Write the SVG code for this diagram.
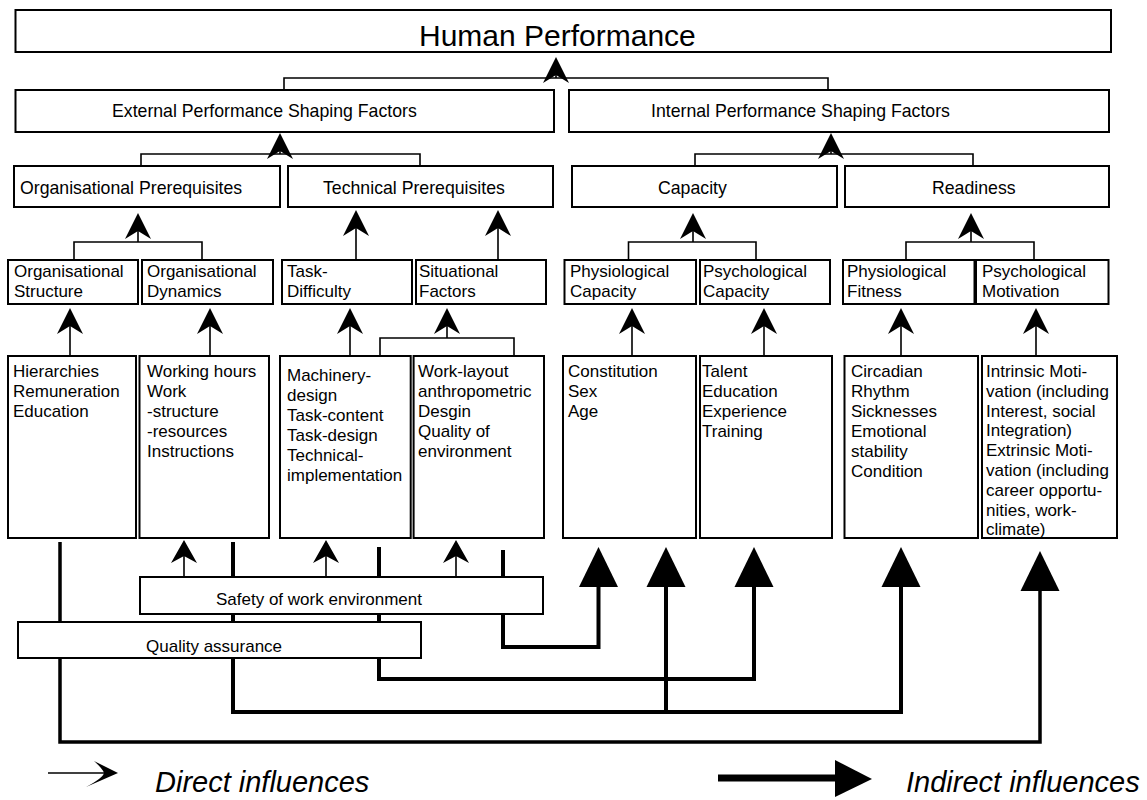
<svg xmlns="http://www.w3.org/2000/svg" xmlns:xlink="http://www.w3.org/1999/xlink" width="1147" height="800" viewBox="0 0 1147 800">
  <style>
    .box { fill: #ffffff; stroke: #000000; stroke-width: 2; }
    .t { font-family: "Liberation Sans", Arial, sans-serif; font-size: 17px; fill: #000000; }
    .mid { font-size: 17.7px; }
    .big { font-size: 30px; }
    .leg { font-size: 29px; font-style: italic; }
    .thin { fill: none; stroke: #000000; stroke-width: 1.6; }
    .thick { fill: none; stroke: #000000; stroke-width: 4; stroke-linejoin: miter; }
    .head { fill: #000000; }
  </style>
  <defs>
    <!-- notched arrowhead, tip at origin, pointing up -->
    <path id="ah" d="M0,0 L13,26 L0,18 L-13,26 Z"/>
    <path id="ahs" d="M0,0 L13,23 L0,16 L-13,23 Z"/>
    <!-- large solid arrowhead for indirect influences -->
    <path id="bh" d="M0,0 L19.5,40 L-19.5,40 Z"/>
  </defs>

  <rect width="1147" height="800" fill="#ffffff"/>

  <!-- connectors -->
  <g id="connectors">
    <!-- indirect influence lines (thick) -->
    <path class="thick" d="M60,542 V742 H1040 V585" style="stroke-width:3.5"/>
    <path class="thick" d="M233,542 V712 H901 V583"/>
    <path class="thick" d="M666,712 V583"/>
    <path class="thick" d="M379,547 V679 H754 V583"/>
    <path class="thick" d="M503,550 V647 H598.5 V583"/>
    <g class="head">
      <use xlink:href="#bh" x="1040" y="551"/>
      <use xlink:href="#bh" x="901" y="547"/>
      <use xlink:href="#bh" x="666" y="547"/>
      <use xlink:href="#bh" x="754" y="547"/>
      <use xlink:href="#bh" x="598.5" y="547"/>
    </g>

    <!-- brackets joining sibling nodes -->
    <path class="thin" d="M284,90 V78 H828 V90"/>
    <path class="thin" d="M141,166 V154 H420 V166"/>
    <path class="thin" d="M695,166 V154 H973 V166"/>
    <path class="thin" d="M74,260 V242 H202 V260"/>
    <path class="thin" d="M628.5,260 V242 H756 V260"/>
    <path class="thin" d="M906,260 V242 H1034 V260"/>
    <path class="thin" d="M380,356 V338 H514 V356"/>

    <!-- direct influence shafts -->
    <path class="thin" d="M556,78 V62 M280,154 V138 M831,154 V138
                          M138,242 V218 M693,242 V218 M971,242 V218
                          M356,260 V215 M498,260 V215
                          M70,356 V313 M210,356 V313 M350,356 V313 M447,338 V313
                          M632,356 V313 M764,356 V313 M901,356 V313 M1036,356 V313
                          M184,577 V545 M326,577 V545 M456,577 V545"/>
    <g class="head">
      <use xlink:href="#ah" x="556" y="57"/>
      <use xlink:href="#ah" x="280" y="133"/>
      <use xlink:href="#ah" x="831" y="133"/>
      <use xlink:href="#ah" x="138" y="213"/>
      <use xlink:href="#ah" x="693" y="213"/>
      <use xlink:href="#ah" x="971" y="213"/>
      <use xlink:href="#ah" x="356" y="210"/>
      <use xlink:href="#ah" x="498" y="210"/>
      <use xlink:href="#ah" x="70" y="308"/>
      <use xlink:href="#ah" x="210" y="308"/>
      <use xlink:href="#ah" x="350" y="308"/>
      <use xlink:href="#ah" x="447" y="308"/>
      <use xlink:href="#ah" x="632" y="308"/>
      <use xlink:href="#ah" x="764" y="308"/>
      <use xlink:href="#ah" x="901" y="308"/>
      <use xlink:href="#ah" x="1036" y="308"/>
      <use xlink:href="#ahs" x="184" y="540"/>
      <use xlink:href="#ahs" x="326" y="540"/>
      <use xlink:href="#ahs" x="456" y="540"/>
    </g>
  </g>

  <!-- level 1 -->
  <g id="human-performance">
    <rect class="box" x="15.5" y="10" width="1095.5" height="42"/>
    <text class="t big" x="419" y="46">Human Performance</text>
  </g>

  <!-- level 2 -->
  <g id="external-psf">
    <rect class="box" x="15.5" y="90" width="538.5" height="42"/>
    <text class="t mid" x="112" y="117">External Performance Shaping Factors</text>
  </g>
  <g id="internal-psf">
    <rect class="box" x="569" y="90" width="540" height="42"/>
    <text class="t mid" x="651" y="117">Internal Performance Shaping Factors</text>
  </g>

  <!-- level 3 -->
  <g id="organisational-prerequisites">
    <rect class="box" x="14" y="166" width="266" height="41"/>
    <text class="t mid" x="20" y="194">Organisational Prerequisites</text>
  </g>
  <g id="technical-prerequisites">
    <rect class="box" x="288" y="166" width="265" height="41"/>
    <text class="t mid" x="323" y="194">Technical Prerequisites</text>
  </g>
  <g id="capacity">
    <rect class="box" x="572" y="166" width="265" height="41"/>
    <text class="t mid" x="658" y="194">Capacity</text>
  </g>
  <g id="readiness">
    <rect class="box" x="845" y="166" width="264" height="41"/>
    <text class="t mid" x="932" y="194">Readiness</text>
  </g>

  <!-- level 4 -->
  <g id="organisational-structure">
    <rect class="box" x="8" y="260" width="130" height="44"/>
    <text class="t" x="14" y="277">Organisational</text>
    <text class="t" x="14" y="297">Structure</text>
  </g>
  <g id="organisational-dynamics">
    <rect class="box" x="142" y="260" width="131" height="44"/>
    <text class="t" x="147" y="277">Organisational</text>
    <text class="t" x="147" y="297">Dynamics</text>
  </g>
  <g id="task-difficulty">
    <rect class="box" x="282" y="260" width="130" height="44"/>
    <text class="t" x="287" y="277">Task-</text>
    <text class="t" x="287" y="297">Difficulty</text>
  </g>
  <g id="situational-factors">
    <rect class="box" x="416" y="260" width="130" height="44"/>
    <text class="t" x="419" y="277">Situational</text>
    <text class="t" x="419" y="297">Factors</text>
  </g>
  <g id="physiological-capacity">
    <rect class="box" x="564.5" y="260" width="131.5" height="44"/>
    <text class="t" x="570" y="277">Physiological</text>
    <text class="t" x="570" y="297">Capacity</text>
  </g>
  <g id="psychological-capacity">
    <rect class="box" x="700" y="260" width="130" height="44"/>
    <text class="t" x="703" y="277">Psychological</text>
    <text class="t" x="703" y="297">Capacity</text>
  </g>
  <g id="physiological-fitness">
    <rect class="box" x="843" y="260" width="131.5" height="44"/>
    <text class="t" x="847" y="277">Physiological</text>
    <text class="t" x="847" y="297">Fitness</text>
  </g>
  <g id="psychological-motivation">
    <rect class="box" x="976" y="260" width="132.5" height="44"/>
    <text class="t" x="982" y="277">Psychological</text>
    <text class="t" x="982" y="297">Motivation</text>
  </g>

  <!-- level 5: contributing factors -->
  <g id="hierarchies">
    <rect class="box" x="8" y="356" width="128" height="182"/>
    <text class="t" x="13" y="377">Hierarchies</text>
    <text class="t" x="13" y="397">Remuneration</text>
    <text class="t" x="13" y="417">Education</text>
  </g>
  <g id="working-hours">
    <rect class="box" x="139.5" y="356" width="129.5" height="182"/>
    <text class="t" x="147" y="377">Working hours</text>
    <text class="t" x="147" y="397">Work</text>
    <text class="t" x="147" y="417">-structure</text>
    <text class="t" x="147" y="437">-resources</text>
    <text class="t" x="147" y="457">Instructions</text>
  </g>
  <g id="machinery-design">
    <rect class="box" x="280" y="356" width="130.7" height="182"/>
    <text class="t" x="287" y="381">Machinery-</text>
    <text class="t" x="287" y="401">design</text>
    <text class="t" x="287" y="421">Task-content</text>
    <text class="t" x="287" y="441">Task-design</text>
    <text class="t" x="287" y="461">Technical-</text>
    <text class="t" x="287" y="481">implementation</text>
  </g>
  <g id="work-layout">
    <rect class="box" x="413.6" y="356" width="130.4" height="182"/>
    <text class="t" x="418" y="377">Work-layout</text>
    <text class="t" x="418" y="397">anthropometric</text>
    <text class="t" x="418" y="417">Desgin</text>
    <text class="t" x="418" y="437">Quality of</text>
    <text class="t" x="418" y="457">environment</text>
  </g>
  <g id="constitution">
    <rect class="box" x="563" y="356" width="133" height="182"/>
    <text class="t" x="568" y="377">Constitution</text>
    <text class="t" x="568" y="397">Sex</text>
    <text class="t" x="568" y="417">Age</text>
  </g>
  <g id="talent">
    <rect class="box" x="700" y="356" width="132" height="182"/>
    <text class="t" x="702" y="377">Talent</text>
    <text class="t" x="702" y="397">Education</text>
    <text class="t" x="702" y="417">Experience</text>
    <text class="t" x="702" y="437">Training</text>
  </g>
  <g id="circadian-rhythm">
    <rect class="box" x="844.5" y="356" width="133.5" height="182"/>
    <text class="t" x="851" y="377">Circadian</text>
    <text class="t" x="851" y="397">Rhythm</text>
    <text class="t" x="851" y="417">Sicknesses</text>
    <text class="t" x="851" y="437">Emotional</text>
    <text class="t" x="851" y="457">stability</text>
    <text class="t" x="851" y="477">Condition</text>
  </g>
  <g id="motivation">
    <rect class="box" x="982" y="356" width="135" height="182"/>
    <text class="t" x="986" y="377">Intrinsic Moti-</text>
    <text class="t" x="986" y="396.8">vation (including</text>
    <text class="t" x="986" y="416.6">Interest, social</text>
    <text class="t" x="986" y="436.4">Integration)</text>
    <text class="t" x="986" y="456.2">Extrinsic Moti-</text>
    <text class="t" x="986" y="476">vation (including</text>
    <text class="t" x="986" y="495.8">career opportu-</text>
    <text class="t" x="986" y="515.6">nities, work-</text>
    <text class="t" x="986" y="535.4">climate)</text>
  </g>

  <!-- cross-cutting factors (drawn over the indirect lines) -->
  <g id="safety-of-work-environment">
    <rect class="box" x="140" y="577" width="403" height="37"/>
    <text class="t" x="216" y="605">Safety of work environment</text>
  </g>
  <g id="quality-assurance">
    <rect class="box" x="18" y="622" width="403" height="36"/>
    <text class="t" x="146" y="652">Quality assurance</text>
  </g>

  <!-- legend -->
  <g id="legend">
    <path class="thin" d="M48,773 H112"/>
    <path class="head" d="M118,773 L94,761 Q103,769 104,773 Q103,778 86,787 Z"/>
    <text class="t leg" x="155" y="792">Direct influences</text>
    <path d="M718,778 H840" stroke="#000000" stroke-width="7" fill="none"/>
    <path class="head" d="M835,760 L872,779 L835,797 Z"/>
    <text class="t leg" x="906" y="792">Indirect influences</text>
  </g>
</svg>
